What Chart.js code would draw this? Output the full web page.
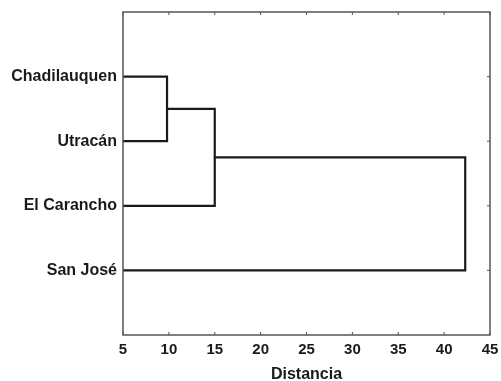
<!DOCTYPE html>
<html>
<head>
<meta charset="utf-8">
<script src="https://cdn.jsdelivr.net/npm/chart.js@4.4.1/dist/chart.umd.min.js"></script>
<style>
  html, body { margin: 0; padding: 0; background: #fff; }
  #wrap { width: 501px; height: 381px; }
</style>
</head>
<body>
<div id="wrap"><canvas id="grafica"></canvas></div>
<script>
/* datos del dendrograma */
const hojas = ["Chadilauquen", "Utracán", "El Carancho", "San José"];
const distUnion = [9.8, 15.0, 42.3];
const ticksX = [5, 10, 15, 20, 25, 30, 35, 40, 45];

const X_MIN = 5, X_MAX = 45;
const FUENTE = "'Liberation Sans', Arial, sans-serif";
const TINTA = "#1a1a1a";

/* cada union se dibuja como una U: rama A -> altura -> rama B */
function armarRamas() {
    const ramas = [];
    let actual = { x: X_MIN, y: 1 };
    distUnion.forEach((d, i) => {
        const b = { x: X_MIN, y: i + 2 };
        ramas.push([
            { x: actual.x, y: actual.y },
            { x: d, y: actual.y },
            { x: d, y: b.y },
            { x: b.x, y: b.y }
        ]);
        actual = { x: d, y: (actual.y + b.y) / 2 };
    });
    return ramas;
}

/* sin margenes extra por etiquetas, el area la fija layout.padding */
function sinRelleno(s) {
    s.paddingTop = 0;
    s.paddingBottom = 0;
    s.paddingLeft = 0;
    s.paddingRight = 0;
}

const marco = {
    id: "marco",
    afterDraw(chart) {
        const { ctx, chartArea: a, scales } = chart;
        ctx.save();
        ctx.strokeStyle = "#555";
        ctx.lineWidth = 1.5;
        ctx.strokeRect(a.left, a.top, a.right - a.left, a.bottom - a.top);
        ctx.lineWidth = 1;
        ctx.beginPath();
        ticksX.forEach(v => {
            const px = scales.x.getPixelForValue(v);
            ctx.moveTo(px, a.bottom); ctx.lineTo(px, a.bottom - 3);
            ctx.moveTo(px, a.top); ctx.lineTo(px, a.top + 3);
        });
        hojas.forEach((h, i) => {
            const py = scales.y.getPixelForValue(i + 1);
            ctx.moveTo(a.right, py); ctx.lineTo(a.right - 3, py);
        });
        ctx.stroke();
        ctx.restore();
    }
};

const datasets = armarRamas().map(r => ({
    data: r,
    showLine: true,
    borderColor: TINTA,
    borderWidth: 2.2,
    borderJoinStyle: "miter",
    borderCapStyle: "butt",
    pointRadius: 0,
    tension: 0
}));

new Chart(document.getElementById("grafica"), {
    type: "scatter",
    data: { datasets },
    plugins: [marco],
    options: {
        responsive: true,
        maintainAspectRatio: false,
        animation: false,
        layout: { padding: { left: 0, right: 11, top: 12, bottom: 0 } },
        plugins: {
            legend: { display: false },
            tooltip: { enabled: false }
        },
        scales: {
            x: {
                type: "linear",
                min: X_MIN,
                max: X_MAX,
                afterFit: s => { s.height = 46; sinRelleno(s); },
                afterBuildTicks: s => { s.ticks = ticksX.map(v => ({ value: v })); },
                grid: { display: false, drawTicks: false },
                border: { display: false },
                ticks: {
                    padding: 6,
                    color: TINTA,
                    font: { family: FUENTE, size: 15, weight: "bold" }
                },
                title: {
                    display: true,
                    text: "Distancia",
                    color: TINTA,
                    padding: { top: 0, bottom: 0 },
                    font: { family: FUENTE, size: 16, weight: "bold", lineHeight: 0.8 }
                }
            },
            y: {
                type: "linear",
                reverse: true,
                min: 0,
                max: hojas.length + 1,
                afterFit: s => { s.width = 123; sinRelleno(s); },
                afterBuildTicks: s => { s.ticks = hojas.map((h, i) => ({ value: i + 1 })); },
                grid: { display: false, drawTicks: false },
                border: { display: false },
                ticks: {
                    padding: 6,
                    color: TINTA,
                    font: { family: FUENTE, size: 16, weight: "bold" },
                    callback: v => hojas[v - 1] || ""
                }
            }
        }
    }
});
</script>
</body>
</html>
